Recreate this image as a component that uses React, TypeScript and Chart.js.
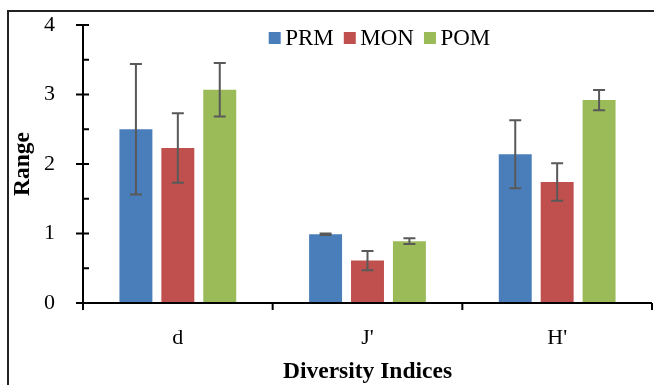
import React, { useEffect, useRef } from "react";
import { Chart, registerables } from "chart.js";

Chart.register(...registerables);

// ---- data ----
const categories = ["d", "J'", "H'"];
const seriesNames = ["PRM", "MON", "POM"];
const prmValues = [2.5, 0.99, 2.14];
const monValues = [2.23, 0.61, 1.74];
const pomValues = [3.07, 0.89, 2.92];
const prmErrors = [0.94, 0.01, 0.49];
const monErrors = [0.5, 0.14, 0.27];
const pomErrors = [0.385, 0.04, 0.145];
const yMajorTicks = [0, 1, 2, 3, 4];
const yMinorTicks = [0.5, 1.5, 2.5, 3.5];
const yTitle = "Range";
const xTitle = "Diversity Indices";

// ---- styles ----
const seriesColors = ["#4A7EBB", "#C0504D", "#9BBB59"];
const SERIF = "'Liberation Serif', 'Times New Roman', serif";

const errorBarPlugin = {
  id: "errorBars",
  afterDatasetsDraw(chart: any) {
    const ctx = chart.ctx;
    const y = chart.scales.y;
    chart.data.datasets.forEach((ds: any, di: number) => {
      const meta = chart.getDatasetMeta(di);
      meta.data.forEach((bar: any, i: number) => {
        const v = ds.data[i];
        const e = ds.errors[i];
        const top = y.getPixelForValue(v + e);
        const bot = y.getPixelForValue(v - e);
        ctx.save();
        ctx.strokeStyle = "#595959";
        ctx.lineWidth = 2;
        ctx.beginPath();
        ctx.moveTo(bar.x, top);
        ctx.lineTo(bar.x, bot);
        ctx.moveTo(bar.x - 6, top);
        ctx.lineTo(bar.x + 6, top);
        ctx.moveTo(bar.x - 6, bot);
        ctx.lineTo(bar.x + 6, bot);
        ctx.stroke();
        ctx.restore();
      });
    });
  },
};

const axesPlugin = {
  id: "excelAxes",
  afterDraw(chart: any) {
    const ctx = chart.ctx;
    const { left, right, bottom } = chart.chartArea;
    const y = chart.scales.y;
    const x = chart.scales.x;
    ctx.save();
    ctx.strokeStyle = "#000";
    ctx.lineWidth = 2;
    ctx.beginPath();
    ctx.moveTo(left, y.getPixelForValue(yMajorTicks[yMajorTicks.length - 1]) - 1);
    ctx.lineTo(left, bottom + 1);
    ctx.moveTo(left - 1, bottom);
    ctx.lineTo(right, bottom);
    yMajorTicks.forEach((v) => {
      const py = y.getPixelForValue(v);
      ctx.moveTo(left - 7, py);
      ctx.lineTo(left + 6, py);
    });
    yMinorTicks.forEach((v) => {
      const py = y.getPixelForValue(v);
      ctx.moveTo(left, py);
      ctx.lineTo(left + 6, py);
    });
    for (let i = 0; i <= categories.length; i++) {
      const px = x.getPixelForValue(i - 0.5);
      ctx.moveTo(px, bottom);
      ctx.lineTo(px, bottom + 7);
    }
    ctx.stroke();
    ctx.restore();
  },
};

const legendPlugin = {
  id: "customLegend",
  afterDraw(chart: any) {
    const ctx = chart.ctx;
    const { left, right, top } = chart.chartArea;
    const box = 12;
    const gapText = 4.5;
    const gapItem = 10;
    ctx.save();
    ctx.font = `23px ${SERIF}`;
    const items = chart.data.datasets.map((ds: any) => ({
      label: ds.label,
      color: ds.backgroundColor,
      w: ctx.measureText(ds.label).width,
    }));
    const total =
      items.reduce((s: number, it: any) => s + box + gapText + it.w, 0) +
      gapItem * (items.length - 1);
    let cx = (left + right) / 2 + 12 - total / 2;
    const cy = top + 13;
    ctx.textBaseline = "middle";
    ctx.textAlign = "left";
    items.forEach((it: any) => {
      ctx.fillStyle = it.color;
      ctx.fillRect(cx, cy - box / 2, box, box);
      cx += box + gapText;
      ctx.fillStyle = "#000";
      ctx.fillText(it.label, cx, cy + 1);
      cx += it.w + gapItem;
    });
    ctx.restore();
  },
};

export default function App() {
  const canvasRef = useRef<HTMLCanvasElement | null>(null);

  useEffect(() => {
    const canvas = canvasRef.current;
    if (!canvas) return;
    const valueSets = [prmValues, monValues, pomValues];
    const errorSets = [prmErrors, monErrors, pomErrors];
    const chart = new Chart(canvas, {
      type: "bar",
      data: {
        labels: categories,
        datasets: seriesNames.map((name, i) => ({
          label: name,
          data: valueSets[i],
          errors: errorSets[i],
          backgroundColor: seriesColors[i],
          borderWidth: 0,
          categoryPercentage: 0.663,
          barPercentage: 0.786,
        })) as any,
      },
      options: {
        animation: false,
        responsive: false,
        maintainAspectRatio: false,
        layout: { padding: { left: 0, top: 25, right: 2, bottom: 0 } },
        plugins: {
          legend: { display: false },
          tooltip: { enabled: false },
          title: { display: false },
        },
        scales: {
          x: {
            offset: true,
            grid: { display: false },
            border: { display: false },
            ticks: {
              color: "#000",
              padding: 14,
              font: { family: SERIF, size: 22 },
            },
            title: {
              display: true,
              text: xTitle,
              color: "#000",
              padding: { top: 0, bottom: 1 },
              font: { family: SERIF, size: 23.5, weight: "bold", lineHeight: 1 },
            },
            afterFit: (scale: any) => {
              scale.height = 82;
              scale.paddingLeft = 0;
              scale.paddingRight = 0;
            },
          },
          y: {
            min: 0,
            max: 4,
            grid: { display: false },
            border: { display: false },
            afterBuildTicks: (scale: any) => {
              scale.ticks = yMajorTicks.map((v) => ({ value: v }));
            },
            ticks: {
              color: "#000",
              padding: 20,
              font: { family: SERIF, size: 22 },
            },
            title: {
              display: true,
              text: yTitle,
              color: "#000",
              padding: { top: 11.5, bottom: 0 },
              font: { family: SERIF, size: 23.5, weight: "bold", lineHeight: 1 },
            },
            afterFit: (scale: any) => {
              scale.width = 83;
              scale.paddingTop = 0;
              scale.paddingBottom = 0;
            },
          },
        },
      },
      plugins: [errorBarPlugin, axesPlugin, legendPlugin],
    });
    return () => chart.destroy();
  }, []);

  return (
    <>
      <div
        style={{
          position: "fixed",
          left: 7,
          top: 10,
          width: 645,
          height: 373,
          borderLeft: "2px solid #222",
          borderTop: "2px solid #222",
          background: "#fff",
        }}
      />
      <canvas
        ref={canvasRef}
        width={654}
        height={385}
        style={{ position: "fixed", left: 0, top: 0, width: 654, height: 385 }}
      />
    </>
  );
}
